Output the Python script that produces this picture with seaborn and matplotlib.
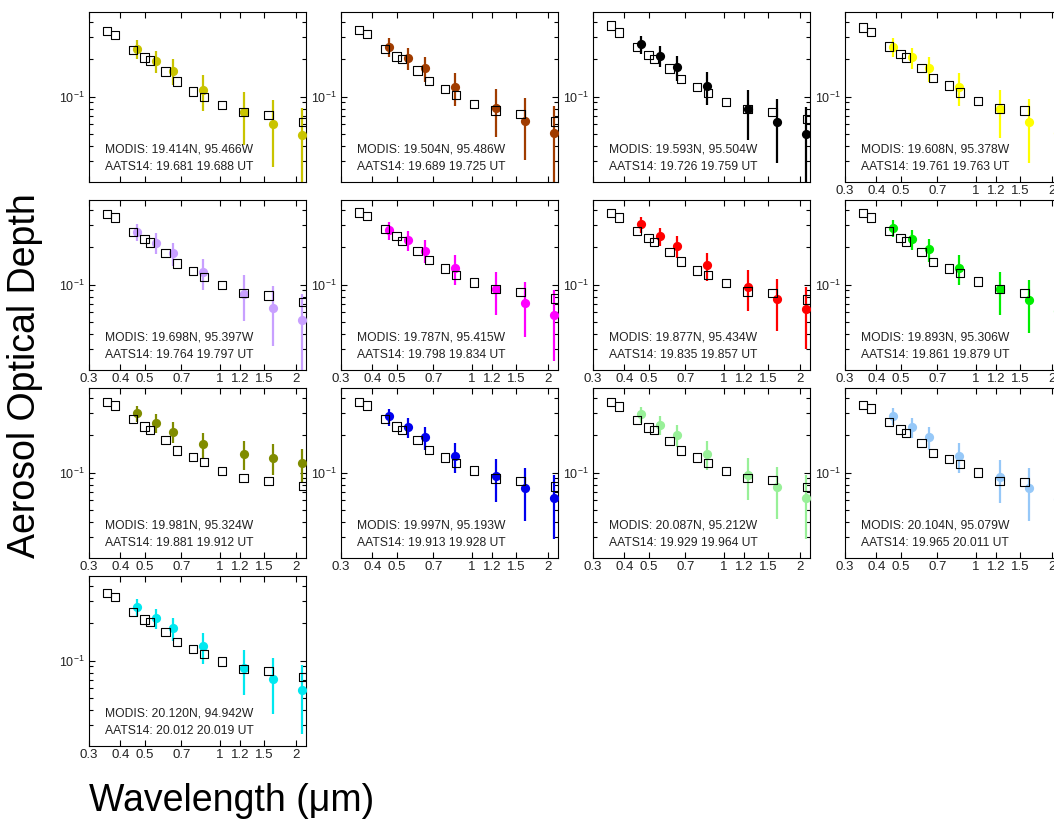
import matplotlib
matplotlib.use("Agg")
import matplotlib.pyplot as plt
import matplotlib.ticker as mticker
import pandas as pd
import seaborn as sns

# channel centres (um)
aats_wl = [0.354, 0.380, 0.449, 0.499, 0.525, 0.606, 0.675, 0.778, 0.865, 1.019, 1.241, 1.558, 2.139]
modis_wl = [0.466, 0.553, 0.646, 0.856, 1.242, 1.629, 2.113]

xtick_vals = [0.3, 0.4, 0.5, 0.7, 1, 1.2, 1.5, 2]
xtick_labels = ['0.3', '0.4', '0.5', '0.7', '1', '1.2', '1.5', '2']

panel_colors = ['#c9c400', '#a03c00', '#000000', '#ffff00',
                '#c8a0ff', '#ff00ff', '#ff0000', '#00ee00',
                '#808c00', '#0000ee', '#98f098', '#96c8f8',
                '#00e8f0']

modis_loc = ['19.414N, 95.466W', '19.504N, 95.486W', '19.593N, 95.504W', '19.608N, 95.378W',
             '19.698N, 95.397W', '19.787N, 95.415W', '19.877N, 95.434W', '19.893N, 95.306W',
             '19.981N, 95.324W', '19.997N, 95.193W', '20.087N, 95.212W', '20.104N, 95.079W',
             '20.120N, 94.942W']
aats_time = ['19.681 19.688', '19.689 19.725', '19.726 19.759', '19.761 19.763',
             '19.764 19.797', '19.798 19.834', '19.835 19.857', '19.861 19.879',
             '19.881 19.912', '19.913 19.928', '19.929 19.964', '19.965 20.011',
             '20.012 20.019']

aats_aod = [
    [0.336, 0.314, 0.238, 0.206, 0.195, 0.159, 0.132, 0.110, 0.099, 0.085, 0.075, 0.071, 0.0625],
    [0.343, 0.318, 0.241, 0.210, 0.200, 0.162, 0.134, 0.115, 0.103, 0.087, 0.077, 0.0725, 0.063],
    [0.374, 0.328, 0.250, 0.217, 0.201, 0.168, 0.139, 0.119, 0.107, 0.090, 0.079, 0.075, 0.066],
    [0.360, 0.330, 0.253, 0.219, 0.206, 0.169, 0.141, 0.123, 0.108, 0.092, 0.080, 0.077, 0.067],
    [0.369, 0.347, 0.266, 0.232, 0.218, 0.179, 0.148, 0.128, 0.115, 0.099, 0.086, 0.0815, 0.0725],
    [0.381, 0.358, 0.279, 0.247, 0.225, 0.187, 0.157, 0.135, 0.120, 0.104, 0.092, 0.087, 0.077],
    [0.378, 0.347, 0.271, 0.236, 0.221, 0.182, 0.153, 0.130, 0.120, 0.1025, 0.088, 0.085, 0.076],
    [0.378, 0.347, 0.271, 0.236, 0.222, 0.184, 0.152, 0.135, 0.124, 0.106, 0.092, 0.086, 0.081],
    [0.371, 0.347, 0.269, 0.235, 0.221, 0.183, 0.151, 0.134, 0.121, 0.103, 0.090, 0.0856, 0.078],
    [0.369, 0.347, 0.269, 0.235, 0.221, 0.183, 0.152, 0.132, 0.120, 0.104, 0.0895, 0.086, 0.077],
    [0.371, 0.341, 0.266, 0.231, 0.219, 0.180, 0.151, 0.132, 0.120, 0.103, 0.090, 0.087, 0.0766],
    [0.351, 0.328, 0.256, 0.222, 0.208, 0.173, 0.144, 0.128, 0.117, 0.100, 0.0856, 0.084, 0.0757],
    [0.349, 0.324, 0.245, 0.214, 0.204, 0.169, 0.141, 0.124, 0.113, 0.098, 0.0857, 0.082, 0.0734],
]

modis_aod = [
    [0.241, 0.195, 0.161, 0.113, 0.075, 0.060, 0.049],
    [0.252, 0.204, 0.171, 0.120, 0.0815, 0.064, 0.0506],
    [0.264, 0.214, 0.173, 0.122, 0.079, 0.062, 0.0497],
    [0.253, 0.207, 0.170, 0.120, 0.080, 0.062, 0.0506],
    [0.266, 0.218, 0.179, 0.126, 0.0846, 0.0652, 0.0516],
    [0.274, 0.228, 0.188, 0.136, 0.0917, 0.0716, 0.0573],
    [0.305, 0.245, 0.204, 0.143, 0.0957, 0.0762, 0.0633],
    [0.286, 0.232, 0.192, 0.136, 0.0917, 0.0748, 0.061],
    [0.301, 0.253, 0.214, 0.171, 0.142, 0.132, 0.119],
    [0.283, 0.232, 0.193, 0.137, 0.093, 0.0748, 0.0621],
    [0.295, 0.241, 0.201, 0.142, 0.0952, 0.0766, 0.0621],
    [0.286, 0.232, 0.192, 0.136, 0.0917, 0.0748, 0.061],
    [0.269, 0.219, 0.183, 0.131, 0.0867, 0.0711, 0.0584],
]

modis_err = [
    [0.042, 0.040, 0.038, 0.036, 0.034, 0.033, 0.032],
    [0.043, 0.040, 0.039, 0.036, 0.034, 0.033, 0.033],
    [0.043, 0.041, 0.039, 0.036, 0.034, 0.033, 0.032],
    [0.043, 0.040, 0.039, 0.036, 0.034, 0.033, 0.033],
    [0.043, 0.041, 0.039, 0.036, 0.034, 0.033, 0.033],
    [0.044, 0.041, 0.039, 0.037, 0.035, 0.034, 0.033],
    [0.045, 0.042, 0.040, 0.037, 0.035, 0.034, 0.033],
    [0.044, 0.042, 0.040, 0.037, 0.035, 0.034, 0.033],
    [0.045, 0.043, 0.041, 0.039, 0.037, 0.037, 0.036],
    [0.044, 0.042, 0.040, 0.037, 0.035, 0.034, 0.033],
    [0.045, 0.042, 0.040, 0.037, 0.035, 0.034, 0.033],
    [0.044, 0.042, 0.040, 0.037, 0.035, 0.034, 0.033],
    [0.043, 0.041, 0.039, 0.037, 0.034, 0.034, 0.033],
]

sns.set_theme(style="ticks")
plt.rcParams['font.family'] = ['Liberation Sans', 'DejaVu Sans']
plt.rcParams['mathtext.default'] = 'regular'
plt.rcParams['axes.linewidth'] = 0.8
plt.rcParams['axes.edgecolor'] = 'black'
plt.rcParams['text.color'] = 'black'

W, H = 1054, 821
fig = plt.figure(figsize=(W / 100, H / 100), dpi=100)

# panel grid in pixels (the last column runs off the right edge, as in the original)
col_left = [89, 341, 593, 845]
row_top = [12, 200, 388, 576]
pw, ph = 217, 170

for i in range(len(panel_colors)):
    r, c = divmod(i, 4)
    col = panel_colors[i]
    ax = fig.add_axes([col_left[c] / W, (H - row_top[r] - ph) / H, pw / W, ph / H])
    ax.set_xscale('log')
    ax.set_yscale('log')

    mod = pd.DataFrame({'wl': modis_wl, 'aod': modis_aod[i], 'err': modis_err[i]})
    aats = pd.DataFrame({'wl': aats_wl, 'aod': aats_aod[i]})

    ax.errorbar(mod['wl'], mod['aod'], yerr=mod['err'], fmt='none',
                ecolor=col, elinewidth=1.6, capsize=0, zorder=2)
    sns.scatterplot(data=mod, x='wl', y='aod', ax=ax, color=col, marker='o',
                    s=44, linewidth=0, zorder=3, legend=False)
    sns.scatterplot(data=aats, x='wl', y='aod', ax=ax, marker='s', s=36,
                    facecolor='none', edgecolor='black', linewidth=0.8,
                    zorder=4, legend=False)

    ax.set_xlim(0.3, 2.2)
    ax.set_ylim(0.0205, 0.48)
    ax.set_xlabel('')
    ax.set_ylabel('')

    ax.xaxis.set_major_locator(mticker.FixedLocator(xtick_vals))
    ax.xaxis.set_major_formatter(mticker.FixedFormatter(xtick_labels))
    ax.xaxis.set_minor_locator(mticker.NullLocator())
    ax.yaxis.set_minor_formatter(mticker.NullFormatter())

    ax.tick_params(which='both', direction='in', top=True, right=True,
                   colors='black', labelcolor='#222222', width=0.8)
    ax.tick_params(axis='x', which='major', length=4.5, labelsize=9.5, pad=2)
    ax.tick_params(axis='y', which='major', length=4.5, labelsize=9, pad=3)
    ax.tick_params(axis='y', which='minor', length=2.8)
    if r == 0 and c < 3:
        ax.tick_params(labelbottom=False)

    ax.text(0.074, 0.19, f'MODIS: {modis_loc[i]}', transform=ax.transAxes,
            fontsize=8.7, color='#222222', va='center', ha='left')
    ax.text(0.074, 0.09, f'AATS14: {aats_time[i]} UT', transform=ax.transAxes,
            fontsize=8.7, color='#222222', va='center', ha='left')

fig.text(25 / W, 1 - 376 / H, 'Aerosol Optical Depth', rotation=90,
         ha='center', va='center', fontsize=27, color='black')
fig.text(232 / W, 1 - 801 / H, 'Wavelength (\u03bcm)',
         ha='center', va='center', fontsize=27, color='black')

fig.savefig('out.png', dpi=100)
